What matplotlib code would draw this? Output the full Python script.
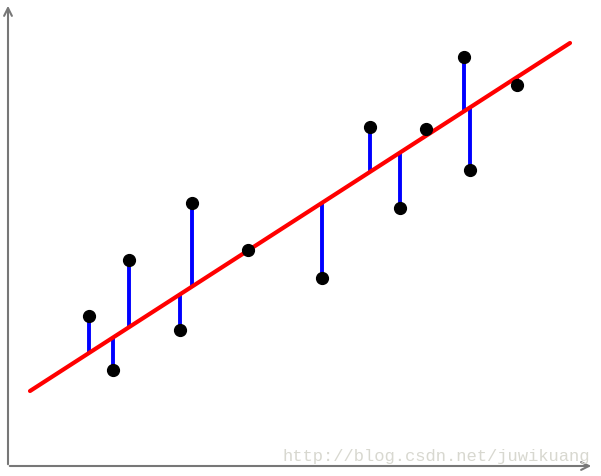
import matplotlib
matplotlib.use('Agg')
import matplotlib.pyplot as plt
import numpy as np

# sample points (pixel-like units, y pointing up)
pts_x = np.array([89, 113, 129, 180, 192, 248, 322, 370, 400, 426, 464, 470, 517])
pts_y = np.array([160, 106, 216, 146, 273, 226, 198, 349, 268, 347, 419, 306, 391])

# regression line end points
fit_x = np.array([30, 570])
fit_y = np.array([85, 433])

fig = plt.figure(figsize=(6.01, 4.77), dpi=100)
ax = fig.add_axes([0, 0, 1, 1])
ax.set_xlim(0, 601)
ax.set_ylim(0, 477)
ax.axis('off')

# axes with arrows
ax.annotate('', xy=(8, 473), xytext=(8, 9),
            arrowprops=dict(arrowstyle='->', color='#777777', lw=1.5, mutation_scale=14))
ax.annotate('', xy=(594, 10), xytext=(7, 10),
            arrowprops=dict(arrowstyle='->', color='#777777', lw=1.5, mutation_scale=14))

# residuals
line_at_pts = np.interp(pts_x, fit_x, fit_y)
ax.vlines(pts_x, pts_y, line_at_pts, colors='blue', lw=2.8, zorder=2)

# fitted line
ax.plot(fit_x, fit_y, color='red', lw=3, zorder=3, solid_capstyle='round')

# points
ax.plot(pts_x, pts_y, 'o', color='black', ms=8.5, zorder=4)

# watermark
ax.text(590, 20, 'http://blog.csdn.net/juwikuang', ha='right', va='center',
        family='Liberation Mono', fontsize=12.3, color='#d8d8d0')

fig.savefig('out.png', dpi=100)
